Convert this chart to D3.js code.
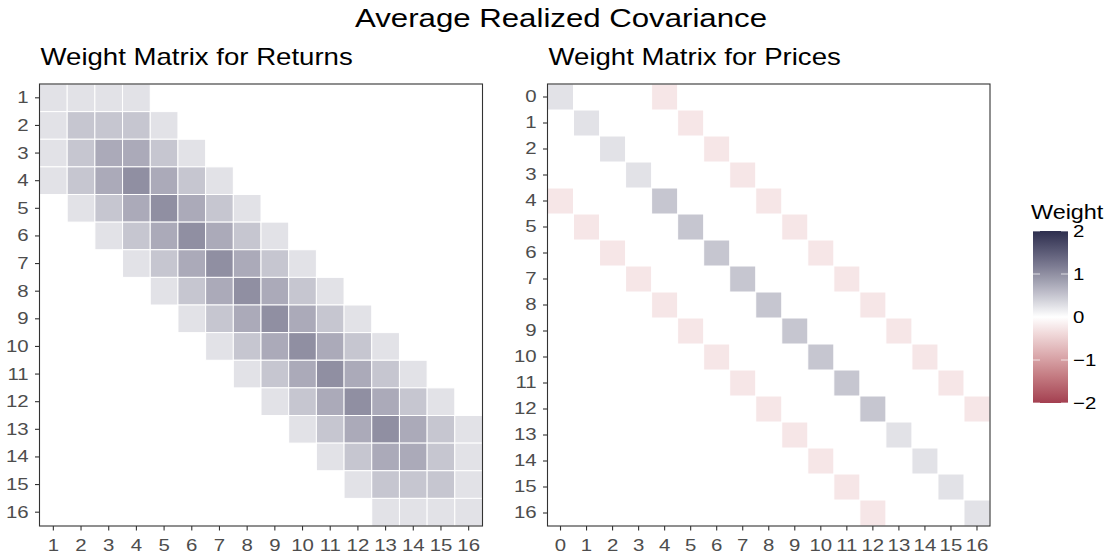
<!DOCTYPE html>
<html>
<head>
<meta charset="utf-8">
<script src="https://cdn.jsdelivr.net/npm/d3@7"></script>
<style>
  body { margin: 0; background: #fff; }
  text { font-family: "Liberation Sans", Arial, sans-serif; }
</style>
</head>
<body>
<script>
// ---- data ----
var returnIdx = d3.range(1, 17);   // 1..16
var priceIdx = d3.range(0, 17);    // 0..16
var legendTicks = [2, 1, 0, -1, -2];

var returnWeights = [
  [0.25,0.25,0.25,0.25,0,0,0,0,0,0,0,0,0,0,0,0],
  [0.25,0.5,0.5,0.5,0.25,0,0,0,0,0,0,0,0,0,0,0],
  [0.25,0.5,0.75,0.75,0.5,0.25,0,0,0,0,0,0,0,0,0,0],
  [0.25,0.5,0.75,1,0.75,0.5,0.25,0,0,0,0,0,0,0,0,0],
  [0,0.25,0.5,0.75,1,0.75,0.5,0.25,0,0,0,0,0,0,0,0],
  [0,0,0.25,0.5,0.75,1,0.75,0.5,0.25,0,0,0,0,0,0,0],
  [0,0,0,0.25,0.5,0.75,1,0.75,0.5,0.25,0,0,0,0,0,0],
  [0,0,0,0,0.25,0.5,0.75,1,0.75,0.5,0.25,0,0,0,0,0],
  [0,0,0,0,0,0.25,0.5,0.75,1,0.75,0.5,0.25,0,0,0,0],
  [0,0,0,0,0,0,0.25,0.5,0.75,1,0.75,0.5,0.25,0,0,0],
  [0,0,0,0,0,0,0,0.25,0.5,0.75,1,0.75,0.5,0.25,0,0],
  [0,0,0,0,0,0,0,0,0.25,0.5,0.75,1,0.75,0.5,0.25,0],
  [0,0,0,0,0,0,0,0,0,0.25,0.5,0.75,1,0.75,0.5,0.25],
  [0,0,0,0,0,0,0,0,0,0,0.25,0.5,0.75,0.75,0.5,0.25],
  [0,0,0,0,0,0,0,0,0,0,0,0.25,0.5,0.5,0.5,0.25],
  [0,0,0,0,0,0,0,0,0,0,0,0,0.25,0.25,0.25,0.25]
];

var priceWeights = [
  [0.25,0,0,0,-0.25,0,0,0,0,0,0,0,0,0,0,0,0],
  [0,0.25,0,0,0,-0.25,0,0,0,0,0,0,0,0,0,0,0],
  [0,0,0.25,0,0,0,-0.25,0,0,0,0,0,0,0,0,0,0],
  [0,0,0,0.25,0,0,0,-0.25,0,0,0,0,0,0,0,0,0],
  [-0.25,0,0,0,0.5,0,0,0,-0.25,0,0,0,0,0,0,0,0],
  [0,-0.25,0,0,0,0.5,0,0,0,-0.25,0,0,0,0,0,0,0],
  [0,0,-0.25,0,0,0,0.5,0,0,0,-0.25,0,0,0,0,0,0],
  [0,0,0,-0.25,0,0,0,0.5,0,0,0,-0.25,0,0,0,0,0],
  [0,0,0,0,-0.25,0,0,0,0.5,0,0,0,-0.25,0,0,0,0],
  [0,0,0,0,0,-0.25,0,0,0,0.5,0,0,0,-0.25,0,0,0],
  [0,0,0,0,0,0,-0.25,0,0,0,0.5,0,0,0,-0.25,0,0],
  [0,0,0,0,0,0,0,-0.25,0,0,0,0.5,0,0,0,-0.25,0],
  [0,0,0,0,0,0,0,0,-0.25,0,0,0,0.5,0,0,0,-0.25],
  [0,0,0,0,0,0,0,0,0,-0.25,0,0,0,0.25,0,0,0],
  [0,0,0,0,0,0,0,0,0,0,-0.25,0,0,0,0.25,0,0],
  [0,0,0,0,0,0,0,0,0,0,0,-0.25,0,0,0,0.25,0],
  [0,0,0,0,0,0,0,0,0,0,0,0,-0.25,0,0,0,0.25]
];

// ---- layout ----
var width = 1117, height = 560;
var stretch = 1.2;
var plotTop = 84, plotBottom = 526;

var color = d3.scaleLinear()
    .domain([-2, 0, 2])
    .range(["#A33F50", "#ffffff", "#2D2E4E"])
    .interpolate(d3.interpolateLab);

var svg = d3.select("body").append("svg")
    .attr("width", width).attr("height", height);

function label(x, y, size, anchor, txt, fill) {
  svg.append("text")
    .attr("transform", "translate(" + x + "," + y + ") scale(" + stretch + ",1)")
    .attr("font-size", size + "px")
    .attr("text-anchor", anchor)
    .attr("fill", fill || "#000")
    .text(txt);
}

label(561, 27, 26, "middle", "Average Realized Covariance");

function heatmap(left, right, idx, matrix, title) {
  var x = d3.scaleBand().domain(idx).range([left, right]).padding(0);
  var y = d3.scaleBand().domain(idx).range([plotTop, plotBottom]).padding(0);

  var cells = [];
  matrix.forEach(function(row, i) {
    row.forEach(function(v, j) {
      cells.push({r: idx[i], c: idx[j], v: v});
    });
  });

  var g = svg.append("g");
  g.selectAll("rect.cell").data(cells.filter(function(d){ return d.v !== 0; }))
    .enter().append("rect")
    .attr("class", "cell")
    .attr("x", function(d){ return x(d.c); })
    .attr("y", function(d){ return y(d.r); })
    .attr("width", x.bandwidth())
    .attr("height", y.bandwidth())
    .attr("fill", function(d){ return color(d.v); })
    .attr("stroke", "#ffffff")
    .attr("stroke-width", 1);

  g.append("rect")
    .attr("x", left).attr("y", plotTop)
    .attr("width", right - left).attr("height", plotBottom - plotTop)
    .attr("fill", "none").attr("stroke", "#333333").attr("stroke-width", 1.1);

  var yAxis = d3.axisLeft(y).tickSize(4.5).tickPadding(4.5);
  var xAxis = d3.axisBottom(x).tickSize(4.5).tickPadding(8);

  var ya = g.append("g").attr("transform", "translate(" + left + ",0)").call(yAxis);
  var xa = g.append("g").attr("transform", "translate(0," + plotBottom + ")").call(xAxis);
  [ya, xa].forEach(function(a) {
    a.select(".domain").remove();
    a.selectAll(".tick line").attr("stroke", "#333333").attr("stroke-width", 1.1);
    a.selectAll(".tick text")
      .attr("font-size", "17px")
      .attr("font-family", "Liberation Sans, Arial, sans-serif")
      .attr("fill", "#4D4D4D")
      .attr("transform", "scale(" + stretch + ",1)");
  });

  label(left + 1, 65, 23, "start", title);
}

heatmap(39.5, 482.5, returnIdx, returnWeights, "Weight Matrix for Returns");
heatmap(547.5, 990, priceIdx, priceWeights, "Weight Matrix for Prices");

// ---- legend ----
var legTop = 231, legBottom = 403, legLeft = 1033, legW = 35;
var ly = d3.scaleLinear().domain([2, -2]).range([legTop, legBottom]);

var grad = svg.append("defs").append("linearGradient")
    .attr("id", "wgrad").attr("x1", 0).attr("y1", 0).attr("x2", 0).attr("y2", 1);
grad.selectAll("stop").data(d3.range(0, 21))
  .enter().append("stop")
  .attr("offset", function(d){ return (d / 20 * 100) + "%"; })
  .attr("stop-color", function(d){ return color(2 - d / 5); });

svg.append("rect")
  .attr("x", legLeft).attr("y", legTop)
  .attr("width", legW).attr("height", legBottom - legTop)
  .attr("fill", "url(#wgrad)");

legendTicks.forEach(function(t) {
  var yy = ly(t);
  [[legLeft, legLeft + 7], [legLeft + legW - 7, legLeft + legW]].forEach(function(s) {
    svg.append("line")
      .attr("x1", s[0]).attr("x2", s[1]).attr("y1", yy).attr("y2", yy)
      .attr("stroke", "#ffffff").attr("stroke-opacity", 0.7).attr("stroke-width", 1);
  });
  label(legLeft + legW + 5, yy + 6, 17, "start", t < 0 ? "\u2212" + Math.abs(t) : String(t));
});

label(1031, 219, 19.5, "start", "Weight");
</script>
</body>
</html>
